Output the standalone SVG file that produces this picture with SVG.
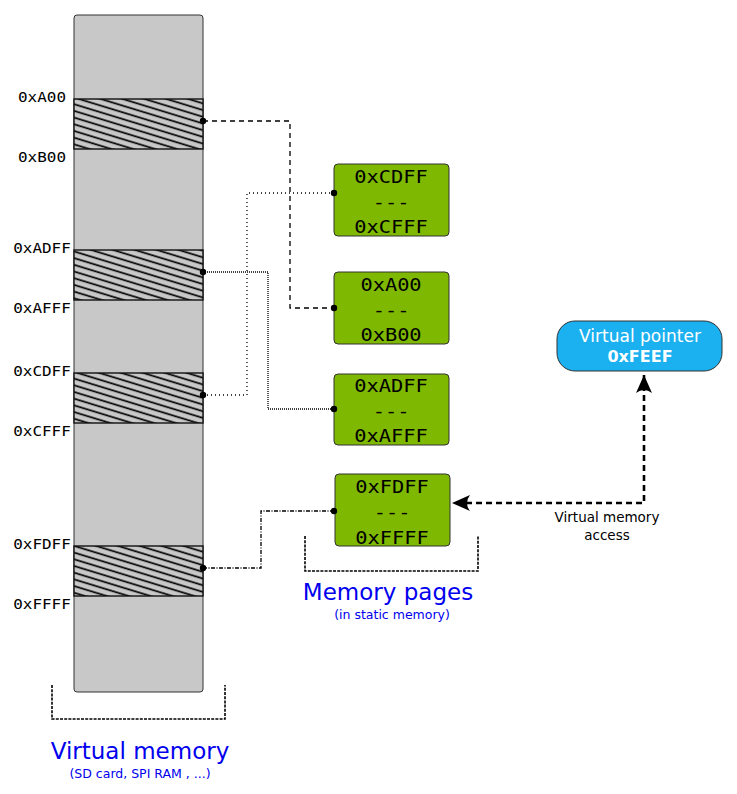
<svg xmlns="http://www.w3.org/2000/svg" width="737" height="794" viewBox="0 0 737 794">
<style>
.mono{font-family:"DejaVu Sans Mono","Liberation Mono",monospace;fill:#000;text-anchor:middle}
.lbl{font-size:14.5px}
.pg{font-size:18.5px}
.sans{font-family:"DejaVu Sans","Liberation Sans",sans-serif;text-anchor:middle}
.title{fill:#0000ee;font-size:23px}
.sub{fill:#0000ee;font-size:12.5px}
.band{fill:url(#hatch);stroke:#111;stroke-width:1.4}
.page{fill:#7fb800;stroke:#333;stroke-width:1}
.dot{fill:#000}
.con{fill:none;stroke:#000;stroke-width:1.3}
.brk{fill:none;stroke:#000;stroke-width:1.6;stroke-dasharray:3,1.2}
</style>
<defs>
<pattern id="hatch" patternUnits="userSpaceOnUse" width="10" height="6.4" patternTransform="rotate(17)">
<rect width="10" height="6.4" fill="#c8c8c8"/>
<line x1="0" y1="1.2" x2="10" y2="1.2" stroke="#000" stroke-width="1.7"/>
</pattern>
<marker id="arr" viewBox="-20 -10 22 20" markerUnits="userSpaceOnUse" markerWidth="22" markerHeight="20" refX="0" refY="0" orient="auto-start-reverse">
<path d="M0,0 L-18,-8 Q-12,0 -18,8 Z" fill="#000"/>
</marker>
</defs>
<rect width="737" height="794" fill="#fff"/>

<g id="virtual-memory">
<rect x="74" y="15" width="129" height="677" rx="3" fill="#c8c8c8" stroke="#333" stroke-width="1"/>
<rect class="band" x="74" y="99" width="129" height="50"/>
<rect class="band" x="74" y="250" width="129" height="50"/>
<rect class="band" x="74" y="373" width="129" height="50"/>
<rect class="band" x="74" y="546" width="129" height="50"/>
<text class="mono lbl" transform="translate(42,102) scale(1.1,1)">0xA00</text>
<text class="mono lbl" transform="translate(42,162) scale(1.1,1)">0xB00</text>
<text class="mono lbl" transform="translate(42,253) scale(1.1,1)">0xADFF</text>
<text class="mono lbl" transform="translate(42,313) scale(1.1,1)">0xAFFF</text>
<text class="mono lbl" transform="translate(42,376) scale(1.1,1)">0xCDFF</text>
<text class="mono lbl" transform="translate(42,436) scale(1.1,1)">0xCFFF</text>
<text class="mono lbl" transform="translate(42,549) scale(1.1,1)">0xFDFF</text>
<text class="mono lbl" transform="translate(42,609) scale(1.1,1)">0xFFFF</text>
</g>

<g id="page-cdff">
<rect class="page" x="334" y="164" width="115" height="72" rx="4"/>
<text class="mono pg" transform="translate(391,183) scale(1.1,1)">0xCDFF</text>
<text class="mono pg" transform="translate(391,208) scale(1.1,1)">---</text>
<text class="mono pg" transform="translate(391,233) scale(1.1,1)">0xCFFF</text>
</g>
<g id="page-a00">
<rect class="page" x="334" y="272" width="115" height="72" rx="4"/>
<text class="mono pg" transform="translate(391,291) scale(1.1,1)">0xA00</text>
<text class="mono pg" transform="translate(391,316) scale(1.1,1)">---</text>
<text class="mono pg" transform="translate(391,341) scale(1.1,1)">0xB00</text>
</g>
<g id="page-adff">
<rect class="page" x="334" y="374" width="115" height="71" rx="4"/>
<text class="mono pg" transform="translate(391,392) scale(1.1,1)">0xADFF</text>
<text class="mono pg" transform="translate(391,417) scale(1.1,1)">---</text>
<text class="mono pg" transform="translate(391,442) scale(1.1,1)">0xAFFF</text>
</g>
<g id="page-fdff">
<rect class="page" x="335" y="474" width="115" height="72" rx="4"/>
<text class="mono pg" transform="translate(392,493) scale(1.1,1)">0xFDFF</text>
<text class="mono pg" transform="translate(392,518) scale(1.1,1)">---</text>
<text class="mono pg" transform="translate(392,544) scale(1.1,1)">0xFFFF</text>
</g>

<g id="virtual-pointer">
<rect x="557" y="321" width="165" height="50" rx="18" fill="#1bb1f0" stroke="#333" stroke-width="1"/>
<text class="sans" x="640" y="342" font-size="17" fill="#fff">Virtual pointer</text>
<text class="sans" x="640" y="362" font-size="16" font-weight="bold" fill="#fff">0xFEEF</text>
</g>

<g id="labels">
<text class="sans title" x="140" y="759">Virtual memory</text>
<text class="sans sub" x="140" y="778">(SD card, SPI RAM , ...)</text>
<text class="sans title" x="388" y="600">Memory pages</text>
<text class="sans sub" x="392" y="619">(in static memory)</text>
<text class="sans" x="607" y="522" font-size="13.5" fill="#000">Virtual memory</text>
<text class="sans" x="607" y="540" font-size="13.5" fill="#000">access</text>
</g>

<g id="connectors">
<path class="con" d="M203,121 H290 V308 H334" stroke-dasharray="5,4"/>
<path class="con" d="M203,272 H268 V409 H334" stroke-dasharray="1,1"/>
<path class="con" d="M203,395 H247 V193 H334" stroke-dasharray="1,3"/>
<path class="con" d="M203,568 H261 V511 H334" stroke-dasharray="4,1.5,1,1.5"/>
<path class="brk" d="M52,685 V719 H225 V685"/>
<path class="brk" d="M305,536 V571 H478 V536"/>
<path d="M644,375 V503 H452" fill="none" stroke="#000" stroke-width="2.6" stroke-dasharray="6,4" marker-start="url(#arr)" marker-end="url(#arr)"/>
<circle class="dot" cx="203" cy="121" r="3.2"/>
<circle class="dot" cx="334" cy="308" r="3.2"/>
<circle class="dot" cx="203" cy="272" r="3.2"/>
<circle class="dot" cx="334" cy="409" r="3.2"/>
<circle class="dot" cx="203" cy="395" r="3.2"/>
<circle class="dot" cx="334" cy="193" r="3.2"/>
<circle class="dot" cx="203" cy="568" r="3.2"/>
<circle class="dot" cx="334" cy="511" r="3.2"/>
</g>
</svg>
